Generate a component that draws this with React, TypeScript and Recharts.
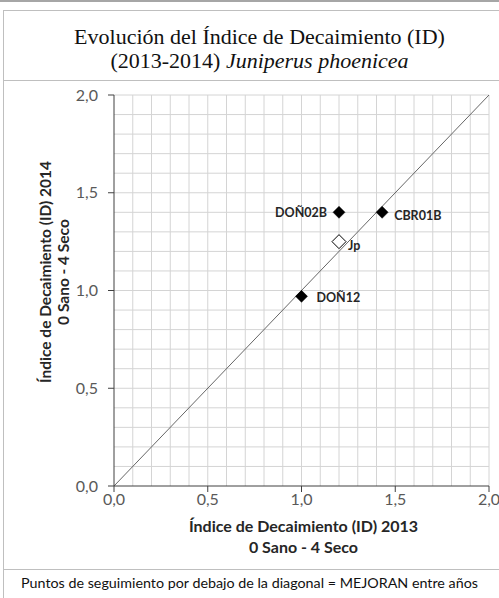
import React from "react";
import { ScatterChart, Scatter, XAxis, YAxis, ReferenceLine } from "recharts";

// ---- data ----
const pointNames = ["DOÑ02B", "CBR01B", "DOÑ12"];
const id2013 = [1.2, 1.43, 1.0];
const id2014 = [1.4, 1.4, 0.97];
const meanNames = ["Jp"];
const mean2013 = [1.2];
const mean2014 = [1.25];
const axisTicks = [0, 0.5, 1, 1.5, 2];
const gridValues = [0.1, 0.2, 0.3, 0.4, 0.5, 0.6, 0.7, 0.8, 0.9, 1.0, 1.1, 1.2, 1.3, 1.4, 1.5, 1.6, 1.7, 1.8, 1.9, 2.0];
const diagonal = [
  { x: 0, y: 0 },
  { x: 2, y: 2 },
];
const titleLine1 = "Evolución del Índice de Decaimiento (ID)";
const titleLine2a = "(2013-2014) ";
const titleLine2b = "Juniperus phoenicea";
const xTitle = ["Índice de Decaimiento (ID) 2013", "0 Sano - 4 Seco"];
const yTitle = ["Índice de Decaimiento (ID) 2014", "0 Sano - 4 Seco"];
const footer = "Puntos de seguimiento por debajo de la diagonal = MEJORAN entre años";

const points = pointNames.map((name, i) => ({ name, x: id2013[i], y: id2014[i] }));
const means = meanNames.map((name, i) => ({ name, x: mean2013[i], y: mean2014[i] }));

// label placement (style)
const labelStyle: Record<string, { side: "left" | "right"; dx: number; dy: number }> = {
  "DOÑ02B": { side: "left", dx: 12, dy: 0 },
  "CBR01B": { side: "right", dx: 12, dy: 3 },
  "DOÑ12": { side: "right", dx: 15, dy: 1 },
  Jp: { side: "right", dx: 9, dy: 4 },
};

const SANS = "Lato, 'Open Sans', sans-serif";
const fmt = (v: number) => v.toFixed(1).replace(".", ",");

const makeDiamond = (filled: boolean) => (props: any) => {
  const { cx, cy, payload } = props;
  const r = filled ? 6 : 7;
  const ls = labelStyle[payload.name];
  const tx = ls.side === "left" ? cx - ls.dx : cx + ls.dx;
  return (
    <g>
      <polygon
        points={`${cx},${cy - r} ${cx + r},${cy} ${cx},${cy + r} ${cx - r},${cy}`}
        fill={filled ? "#000" : "#fff"}
        stroke="#000"
        strokeWidth={filled ? 0.5 : 1}
      />
      <text
        x={tx}
        y={cy + ls.dy}
        textAnchor={ls.side === "left" ? "end" : "start"}
        dominantBaseline="central"
        fontFamily={SANS}
        fontWeight="bold"
        fontSize={12.5}
        fill="#262626"
      >
        {payload.name}
      </text>
    </g>
  );
};

export default function App() {
  return (
    <div style={{ position: "absolute", left: 0, top: 0, width: 499, height: 598, background: "#fff", overflow: "hidden" }}>
      {/* top page line */}
      <div style={{ position: "absolute", left: 0, top: 0, width: 499, height: 2, background: "#a6a6a6" }} />
      {/* title box */}
      <div
        style={{
          position: "absolute",
          left: 3,
          top: 10,
          width: 510,
          height: 71,
          border: "1px solid #bfbfbf",
          boxSizing: "border-box",
        }}
      />
      <div
        style={{
          position: "absolute",
          left: 10,
          top: 25,
          width: 499,
          textAlign: "center",
          fontFamily: "'Liberation Serif', serif",
          fontSize: 22,
          lineHeight: "24px",
          color: "#111",
        }}
      >
        <div>{titleLine1}</div>
        <div>
          {titleLine2a}
          <i>{titleLine2b}</i>
        </div>
      </div>
      {/* chart panel border */}
      <div style={{ position: "absolute", left: 3, top: 81, width: 1, height: 517, background: "#bfbfbf" }} />
      <div style={{ position: "absolute", left: 3, top: 569, width: 510, height: 1, background: "#bfbfbf" }} />

      <div style={{ position: "absolute", left: 0, top: 0 }}>
        <ScatterChart width={499} height={598} margin={{ top: 95, right: 10, bottom: 82, left: 54 }}>
          <XAxis
            type="number"
            dataKey="x"
            domain={[0, 2]}
            ticks={axisTicks}
            tickFormatter={fmt}
            height={30}
            tickSize={6}
            tickMargin={2}
            stroke="#404040"
            tick={{ fill: "#595959", fontFamily: SANS, fontSize: 16 }}
            allowDataOverflow
          />
          <YAxis
            type="number"
            dataKey="y"
            domain={[0, 2]}
            ticks={axisTicks}
            tickFormatter={fmt}
            width={60}
            tickSize={6}
            tickMargin={10}
            stroke="#404040"
            tick={{ fill: "#595959", fontFamily: SANS, fontSize: 16 }}
            allowDataOverflow
          />
          {gridValues.map((v) => (
            <ReferenceLine key={"gx" + v} x={v} stroke="#d4d4d4" strokeWidth={1} />
          ))}
          {gridValues.map((v) => (
            <ReferenceLine key={"gy" + v} y={v} stroke="#d4d4d4" strokeWidth={1} />
          ))}
          <ReferenceLine segment={diagonal} stroke="#666666" strokeWidth={1} />
          <Scatter data={points} shape={makeDiamond(true)} isAnimationActive={false} />
          <Scatter data={means} shape={makeDiamond(false)} isAnimationActive={false} />
        </ScatterChart>
      </div>

      {/* x axis title */}
      <div
        style={{
          position: "absolute",
          left: 116,
          top: 515,
          width: 375,
          textAlign: "center",
          fontFamily: SANS,
          fontWeight: "bold",
          fontSize: 16,
          lineHeight: "21px",
          color: "#262626",
        }}
      >
        <div>{xTitle[0]}</div>
        <div>{xTitle[1]}</div>
      </div>
      {/* y axis title */}
      <div
        style={{
          position: "absolute",
          left: 54 - 150,
          top: 272 - 18,
          width: 300,
          height: 36,
          transform: "rotate(-90deg)",
          transformOrigin: "150px 18px",
          textAlign: "center",
          fontFamily: SANS,
          fontWeight: "bold",
          fontSize: 15.5,
          lineHeight: "18px",
          color: "#262626",
        }}
      >
        <div>{yTitle[0]}</div>
        <div>{yTitle[1]}</div>
      </div>
      {/* footer */}
      <div
        style={{
          position: "absolute",
          left: 0,
          top: 574,
          width: 499,
          textAlign: "center",
          fontFamily: SANS,
          fontSize: 14.3,
          lineHeight: "18px",
          color: "#111",
        }}
      >
        {footer}
      </div>
    </div>
  );
}
